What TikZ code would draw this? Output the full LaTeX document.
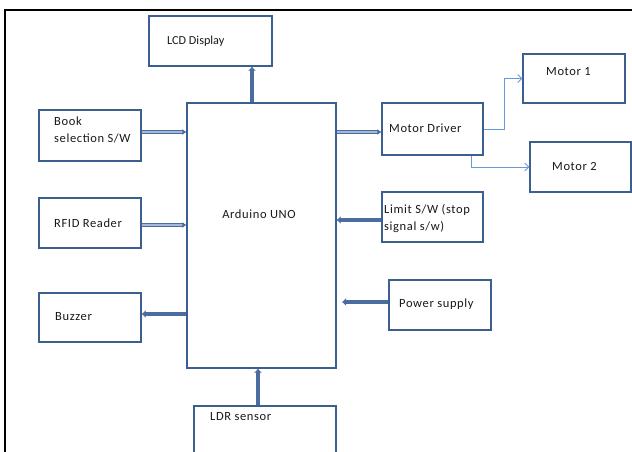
\documentclass[tikz,border=0pt]{standalone}
\usepackage{fontspec}
\setmainfont{Carlito}
\newfontfamily\widefont[LetterSpace=5]{Carlito}
\usetikzlibrary{arrows.meta,calc}
\definecolor{boxblue}{RGB}{60,95,145}
\definecolor{arrblue}{RGB}{74,108,158}
\definecolor{thinblue}{RGB}{105,152,212}
\definecolor{dblin}{RGB}{165,185,212}
\definecolor{txtc}{RGB}{25,25,25}
\tikzset{
  blk/.style={draw=boxblue, line width=1.2pt, fill=white, rectangle, inner sep=0pt},
  txt/.style={anchor=west, inner sep=0pt, text=txtc, font=\widefont\fontsize{12.5}{16.5}\selectfont, align=left},
  fatarrow/.style={draw=arrblue, line width=3.6pt, -{Latex[length=4pt,width=8pt]}},
  dblarrow/.style={draw=arrblue, line width=1pt, double=dblin, double distance=1.4pt, -{Latex[length=4pt,width=6pt]}},
  thinarrow/.style={draw=thinblue, line width=0.9pt, -{Straight Barb[length=4pt,width=8pt]}},
}
\begin{document}
\begin{tikzpicture}[x=1pt,y=-1pt]
\clip (0,0) rectangle (632,452);
\fill[white] (0,0) rectangle (632,452);
% outer frame
\draw[black, line width=1.4pt] (5,480) -- (5,10) -- (660,10);
% blocks
\node[blk, minimum width=123pt, minimum height=50pt] (lcd) at (210.5,41) {};
\node[blk, minimum width=102pt, minimum height=51pt] (book) at (90,135.5) {};
\node[blk, minimum width=102pt, minimum height=50pt] (rfid) at (90,223) {};
\node[blk, minimum width=102pt, minimum height=49pt] (buz) at (90,317.5) {};
\node[blk, minimum width=149pt, minimum height=265pt] (ard) at (261.5,235.5) {};
\node[blk, minimum width=142pt, minimum height=70pt] (ldr) at (265,441) {};
\node[blk, minimum width=101pt, minimum height=52pt] (drv) at (432.5,129) {};
\node[blk, minimum width=102pt, minimum height=49pt] (m1) at (574,78.5) {};
\node[blk, minimum width=101pt, minimum height=50pt] (m2) at (580.5,167) {};
\node[blk, minimum width=101pt, minimum height=50pt] (lim) at (432.5,217) {};
\node[blk, minimum width=102pt, minimum height=50pt] (pow) at (440,305) {};
% texts
\node[txt, font=\fontsize{12.2}{14}\selectfont] (tlcd) at (167,41) {LCD Display};
\node[txt] (tbook) at (54,130) {Book\\selection S/W};
\node[txt] (trfid) at (54,223) {RFID Reader};
\node[txt] (tbuz) at (55,317) {Buzzer};
\node[txt, anchor=center] (tard) at (259,214) {Arduino UNO};
\node[txt] (tldr) at (210,417) {LDR sensor};
\node[txt] (tdrv) at (389,128) {Motor Driver};
\node[txt] (tm1) at (546,72) {Motor 1};
\node[txt] (tm2) at (552,166) {Motor 2};
\node[txt] (tlim) at (384,218.5) {Limit S/W (stop\\signal s/w)};
\node[txt] (tpow) at (399,304) {Power supply};
\coordinate (pwend) at (342,302);
% connectors
\draw[fatarrow] ([xshift=-9.5pt]ard.north) -- ([xshift=-9.5pt]ard.north |- lcd.south);
\draw[dblarrow] ([yshift=3.5pt]book.east) -- ([yshift=3.5pt]book.east -| ard.west);
\draw[dblarrow] ([yshift=-2pt]rfid.east) -- ([yshift=-2pt]rfid.east -| ard.west);
\draw[dblarrow] ([yshift=-3pt]drv.west -| ard.east) -- ([yshift=-3pt]drv.west);
\draw[fatarrow] ([yshift=-3pt]lim.west) -- ([yshift=-3pt]lim.west -| ard.east);
\draw[fatarrow] (pow.west |- pwend) -- (pwend);
\draw[fatarrow] ([yshift=3.5pt]ard.west |- buz.east) -- ([yshift=3.5pt]buz.east);
\draw[fatarrow] ([xshift=-7pt]ldr.north) -- ([xshift=-7pt]ldr.north |- ard.south);
\draw[thinarrow] (drv.east) -- ++(21,0) |- (m1.west);
\draw[thinarrow] ([xshift=38.5pt]drv.south) |- (m2.west);
\end{tikzpicture}
\end{document}
